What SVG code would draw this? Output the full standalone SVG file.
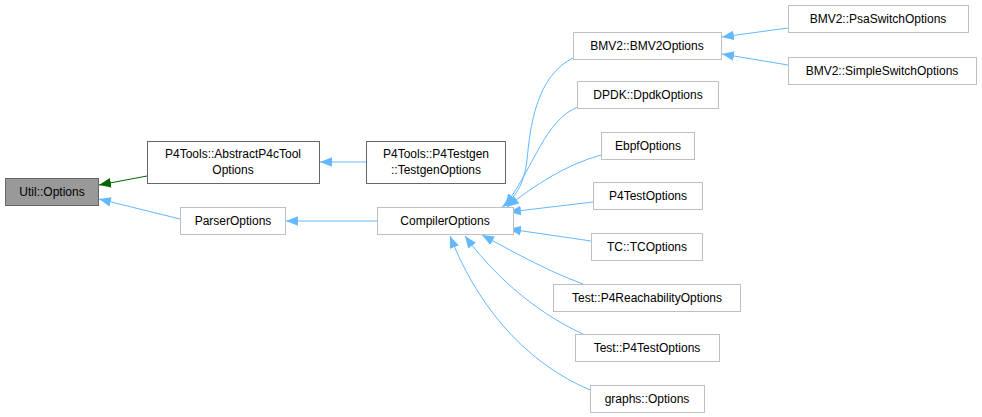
<svg xmlns="http://www.w3.org/2000/svg" width="982" height="417" viewBox="0 0 982 417">
<style>
.n rect{fill:#fff;stroke:#bfbfbf;stroke-width:1}
.d rect{stroke:#666}
text{font-family:"Liberation Sans",Arial,sans-serif;font-size:12px;fill:#000;text-anchor:middle}
.e path{fill:none;stroke:#63b8ff;stroke-width:1}
.e path.g{stroke:#006400}
</style>
<defs>
<marker id="a" viewBox="0 0 10 8" refX="10" refY="4" markerWidth="12" markerHeight="10" markerUnits="userSpaceOnUse" orient="auto"><path d="M0,0L10,4L0,8Z" fill="#63b8ff"/></marker>
<marker id="ag" viewBox="0 0 10 8" refX="10" refY="4" markerWidth="12" markerHeight="10" markerUnits="userSpaceOnUse" orient="auto"><path d="M0,0L10,4L0,8Z" fill="#006400"/></marker>
</defs>
<g class="e">
<path class="g" d="M147,176L99,185" marker-end="url(#ag)"/>
<path d="M180,219L99,199" marker-end="url(#a)"/>
<path d="M366,162L320,162" marker-end="url(#a)"/>
<path d="M377,221L286,221" marker-end="url(#a)"/>
<path d="M788,28L722,37" marker-end="url(#a)"/>
<path d="M788,65L722,54" marker-end="url(#a)"/>
<path d="M575,57C535,75 530,130 527,160C524,185 515,198 502,207" marker-end="url(#a)"/>
<path d="M578,107C545,120 535,165 505,206" marker-end="url(#a)"/>
<path d="M601,155C565,165 535,185 507,207" marker-end="url(#a)"/>
<path d="M593,202L509,212" marker-end="url(#a)"/>
<path d="M591,241L509,229" marker-end="url(#a)"/>
<path d="M583,284C545,270 510,250 482,235" marker-end="url(#a)"/>
<path d="M585,335C530,310 490,270 465,236" marker-end="url(#a)"/>
<path d="M590,390C520,360 475,300 450,236" marker-end="url(#a)"/>
</g>
<g id="util" class="n d"><rect x="5.5" y="178.5" width="93" height="27" style="fill:#999"/><text x="52" y="196">Util::Options</text></g>
<g id="abstract" class="n d"><rect x="147.5" y="141.5" width="172" height="42"/><text x="233" y="158">P4Tools::AbstractP4cTool</text><text x="233" y="174">Options</text></g>
<g id="testgen" class="n d"><rect x="366.5" y="141.5" width="139" height="42"/><text x="436" y="158">P4Tools::P4Testgen</text><text x="436" y="174">::TestgenOptions</text></g>
<g id="parser" class="n"><rect x="180.5" y="207.5" width="105" height="27"/><text x="233" y="225">ParserOptions</text></g>
<g id="compiler" class="n"><rect x="377.5" y="207.5" width="136" height="27"/><text x="445" y="225">CompilerOptions</text></g>
<g id="bmv2" class="n"><rect x="573.5" y="32.5" width="148" height="27"/><text x="647" y="50">BMV2::BMV2Options</text></g>
<g id="psa" class="n"><rect x="788.5" y="5.5" width="180" height="27"/><text x="878" y="23">BMV2::PsaSwitchOptions</text></g>
<g id="simple" class="n"><rect x="788.5" y="57.5" width="188" height="27"/><text x="882" y="75">BMV2::SimpleSwitchOptions</text></g>
<g id="dpdk" class="n"><rect x="577.5" y="81.5" width="141" height="27"/><text x="648" y="99">DPDK::DpdkOptions</text></g>
<g id="ebpf" class="n"><rect x="601.5" y="132.5" width="93" height="27"/><text x="648" y="150">EbpfOptions</text></g>
<g id="p4test" class="n"><rect x="593.5" y="182.5" width="109" height="27"/><text x="648" y="200">P4TestOptions</text></g>
<g id="tc" class="n"><rect x="591.5" y="233.5" width="111" height="27"/><text x="647" y="251">TC::TCOptions</text></g>
<g id="reach" class="n"><rect x="553.5" y="284.5" width="187" height="27"/><text x="647" y="302">Test::P4ReachabilityOptions</text></g>
<g id="tp4test" class="n"><rect x="575.5" y="334.5" width="144" height="27"/><text x="647" y="352">Test::P4TestOptions</text></g>
<g id="graphs" class="n"><rect x="590.5" y="385.5" width="114" height="27"/><text x="647" y="403">graphs::Options</text></g>
</svg>
